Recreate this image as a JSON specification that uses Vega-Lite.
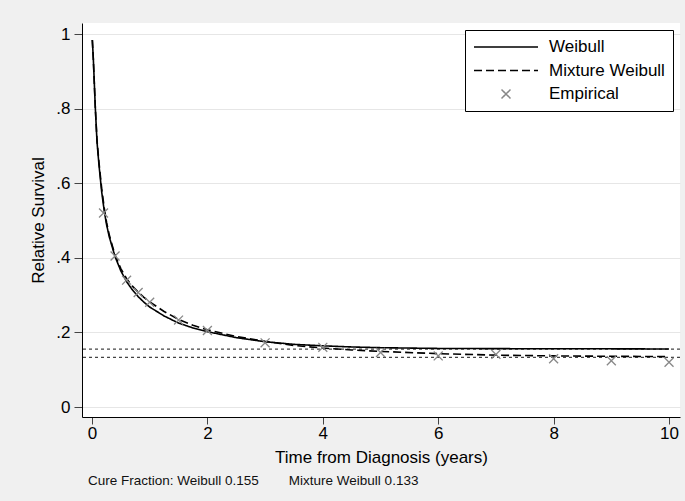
{
  "$schema": "https://vega.github.io/schema/vega-lite/v6.json",
  "width": 598,
  "height": 394,
  "autosize": {"type": "none"},
  "padding": {"left": 82, "top": 23, "right": 5, "bottom": 84},
  "background": "#F0F0F0",
  "config": {
    "font": "Liberation Sans",
    "view": {"fill": "white", "stroke": null},
    "axis": {
      "domainColor": "black",
      "domainWidth": 1,
      "tickColor": "#444",
      "labelFontSize": 17,
      "labelColor": "black",
      "titleFontSize": 17,
      "titleFontWeight": "normal",
      "titleColor": "black",
      "labelFlush": false
    },
    "legend": {
      "orient": "top-right",
      "offset": 7,
      "fillColor": "white",
      "strokeColor": "black",
      "padding": 8,
      "labelFontSize": 17,
      "labelColor": "black",
      "labelOffset": 10,
      "symbolSize": 4096,
      "symbolStrokeWidth": 1.5,
      "clipHeight": 18,
      "rowPadding": 5.5,
      "symbolOffset": 0
    }
  },
  "title": {
    "text": "Cure Fraction: Weibull 0.155\u00a0\u00a0\u00a0\u00a0\u00a0\u00a0\u00a0\u00a0Mixture Weibull 0.133",
    "orient": "bottom",
    "anchor": "start",
    "frame": "group",
    "fontSize": 13.5,
    "fontWeight": "normal",
    "color": "#111",
    "offset": 9,
    "dx": 6
  },
  "datasets": {
    "cure": [{"value": 0.155}, {"value": 0.133}],
    "curves": [
      {"t": 0.006, "s": 0.984, "model": "Weibull"},
      {"t": 0.023, "s": 0.935, "model": "Weibull"},
      {"t": 0.035, "s": 0.89, "model": "Weibull"},
      {"t": 0.058, "s": 0.801, "model": "Weibull"},
      {"t": 0.087, "s": 0.711, "model": "Weibull"},
      {"t": 0.121, "s": 0.649, "model": "Weibull"},
      {"t": 0.168, "s": 0.577, "model": "Weibull"},
      {"t": 0.214, "s": 0.524, "model": "Weibull"},
      {"t": 0.254, "s": 0.488, "model": "Weibull"},
      {"t": 0.3, "s": 0.456, "model": "Weibull"},
      {"t": 0.4, "s": 0.403, "model": "Weibull"},
      {"t": 0.5, "s": 0.365, "model": "Weibull"},
      {"t": 0.6, "s": 0.336, "model": "Weibull"},
      {"t": 0.7, "s": 0.314, "model": "Weibull"},
      {"t": 0.8, "s": 0.296, "model": "Weibull"},
      {"t": 0.9, "s": 0.281, "model": "Weibull"},
      {"t": 1.0, "s": 0.268, "model": "Weibull"},
      {"t": 1.25, "s": 0.244, "model": "Weibull"},
      {"t": 1.5, "s": 0.225, "model": "Weibull"},
      {"t": 1.75, "s": 0.212, "model": "Weibull"},
      {"t": 2.0, "s": 0.202, "model": "Weibull"},
      {"t": 2.5, "s": 0.186, "model": "Weibull"},
      {"t": 3.0, "s": 0.175, "model": "Weibull"},
      {"t": 3.5, "s": 0.168, "model": "Weibull"},
      {"t": 4.0, "s": 0.164, "model": "Weibull"},
      {"t": 4.5, "s": 0.161, "model": "Weibull"},
      {"t": 5.0, "s": 0.159, "model": "Weibull"},
      {"t": 6.0, "s": 0.157, "model": "Weibull"},
      {"t": 7.0, "s": 0.1565, "model": "Weibull"},
      {"t": 8.0, "s": 0.156, "model": "Weibull"},
      {"t": 9.0, "s": 0.156, "model": "Weibull"},
      {"t": 10.0, "s": 0.1555, "model": "Weibull"},
      {"t": 0.006, "s": 0.984, "model": "Mixture Weibull"},
      {"t": 0.023, "s": 0.933, "model": "Mixture Weibull"},
      {"t": 0.035, "s": 0.888, "model": "Mixture Weibull"},
      {"t": 0.058, "s": 0.802, "model": "Mixture Weibull"},
      {"t": 0.087, "s": 0.716, "model": "Mixture Weibull"},
      {"t": 0.121, "s": 0.656, "model": "Mixture Weibull"},
      {"t": 0.168, "s": 0.586, "model": "Mixture Weibull"},
      {"t": 0.214, "s": 0.532, "model": "Mixture Weibull"},
      {"t": 0.254, "s": 0.494, "model": "Mixture Weibull"},
      {"t": 0.3, "s": 0.461, "model": "Mixture Weibull"},
      {"t": 0.4, "s": 0.407, "model": "Mixture Weibull"},
      {"t": 0.5, "s": 0.371, "model": "Mixture Weibull"},
      {"t": 0.6, "s": 0.344, "model": "Mixture Weibull"},
      {"t": 0.7, "s": 0.324, "model": "Mixture Weibull"},
      {"t": 0.8, "s": 0.308, "model": "Mixture Weibull"},
      {"t": 0.9, "s": 0.294, "model": "Mixture Weibull"},
      {"t": 1.0, "s": 0.282, "model": "Mixture Weibull"},
      {"t": 1.25, "s": 0.256, "model": "Mixture Weibull"},
      {"t": 1.5, "s": 0.235, "model": "Mixture Weibull"},
      {"t": 1.75, "s": 0.219, "model": "Mixture Weibull"},
      {"t": 2.0, "s": 0.207, "model": "Mixture Weibull"},
      {"t": 2.5, "s": 0.189, "model": "Mixture Weibull"},
      {"t": 3.0, "s": 0.176, "model": "Mixture Weibull"},
      {"t": 3.5, "s": 0.165, "model": "Mixture Weibull"},
      {"t": 4.0, "s": 0.158, "model": "Mixture Weibull"},
      {"t": 4.5, "s": 0.153, "model": "Mixture Weibull"},
      {"t": 5.0, "s": 0.149, "model": "Mixture Weibull"},
      {"t": 6.0, "s": 0.143, "model": "Mixture Weibull"},
      {"t": 7.0, "s": 0.139, "model": "Mixture Weibull"},
      {"t": 8.0, "s": 0.137, "model": "Mixture Weibull"},
      {"t": 9.0, "s": 0.136, "model": "Mixture Weibull"},
      {"t": 10.0, "s": 0.135, "model": "Mixture Weibull"}
    ],
    "emp": [
      {"t": 0.2, "s": 0.52, "model": "Empirical"},
      {"t": 0.4, "s": 0.405, "model": "Empirical"},
      {"t": 0.6, "s": 0.34, "model": "Empirical"},
      {"t": 0.8, "s": 0.307, "model": "Empirical"},
      {"t": 1.0, "s": 0.281, "model": "Empirical"},
      {"t": 1.5, "s": 0.233, "model": "Empirical"},
      {"t": 2.0, "s": 0.205, "model": "Empirical"},
      {"t": 3.0, "s": 0.172, "model": "Empirical"},
      {"t": 4.0, "s": 0.16, "model": "Empirical"},
      {"t": 5.0, "s": 0.146, "model": "Empirical"},
      {"t": 6.0, "s": 0.137, "model": "Empirical"},
      {"t": 7.0, "s": 0.141, "model": "Empirical"},
      {"t": 8.0, "s": 0.1295, "model": "Empirical"},
      {"t": 9.0, "s": 0.124, "model": "Empirical"},
      {"t": 10.0, "s": 0.12, "model": "Empirical"}
    ]
  },
  "layer": [
    {
      "data": {"name": "cure"},
      "mark": {"type": "rule", "color": "#444", "strokeDash": [3, 3], "strokeWidth": 1.3},
      "encoding": {
        "y": {"field": "value", "type": "quantitative", "scale": {"domain": [-0.0268, 1.0295], "nice": false, "zero": false}}
      }
    },
    {
      "data": {"name": "curves"},
      "mark": {"type": "line", "strokeWidth": 1.6},
      "encoding": {
        "x": {
          "field": "t", "type": "quantitative",
          "scale": {"domain": [-0.173, 10.19], "nice": false, "zero": false},
          "axis": {"title": "Time from Diagnosis (years)", "values": [0, 2, 4, 6, 8, 10], "format": "d", "grid": false, "tickSize": 7, "labelPadding": 1, "titlePadding": 8}
        },
        "y": {
          "field": "s", "type": "quantitative",
          "scale": {"domain": [-0.0268, 1.0295], "nice": false, "zero": false},
          "axis": {"title": "Relative Survival", "values": [0, 0.2, 0.4, 0.6, 0.8, 1], "grid": true, "gridColor": "#E6E6E6", "gridWidth": 1, "tickSize": 8, "labelPadding": 4, "titlePadding": 8,
            "labelExpr": "datum.value == 0 ? '0' : datum.value == 1 ? '1' : '.' + round(datum.value * 10)"}
        },
        "color": {
          "field": "model", "type": "nominal",
          "scale": {"domain": ["Weibull", "Mixture Weibull", "Empirical"], "range": ["black", "black", "#888888"]},
          "legend": {"title": null}
        },
        "strokeDash": {
          "field": "model", "type": "nominal",
          "scale": {"domain": ["Weibull", "Mixture Weibull", "Empirical"], "range": [[1, 0], [8, 4], [1, 0]]},
          "legend": {"title": null}
        }
      }
    },
    {
      "data": {"name": "emp"},
      "mark": {"type": "point", "size": 4096, "strokeWidth": 1.3, "filled": false, "opacity": 1},
      "encoding": {
        "x": {"field": "t", "type": "quantitative"},
        "y": {"field": "s", "type": "quantitative"},
        "color": {
          "field": "model", "type": "nominal",
          "scale": {"domain": ["Weibull", "Mixture Weibull", "Empirical"], "range": ["black", "black", "#888888"]},
          "legend": {"title": null}
        },
        "shape": {
          "field": "model", "type": "nominal",
          "scale": {"domain": ["Weibull", "Mixture Weibull", "Empirical"], "range": ["stroke", "stroke", "M-0.14,-0.14L0.14,0.14M-0.14,0.14L0.14,-0.14"]},
          "legend": {"title": null}
        }
      }
    }
  ]
}
